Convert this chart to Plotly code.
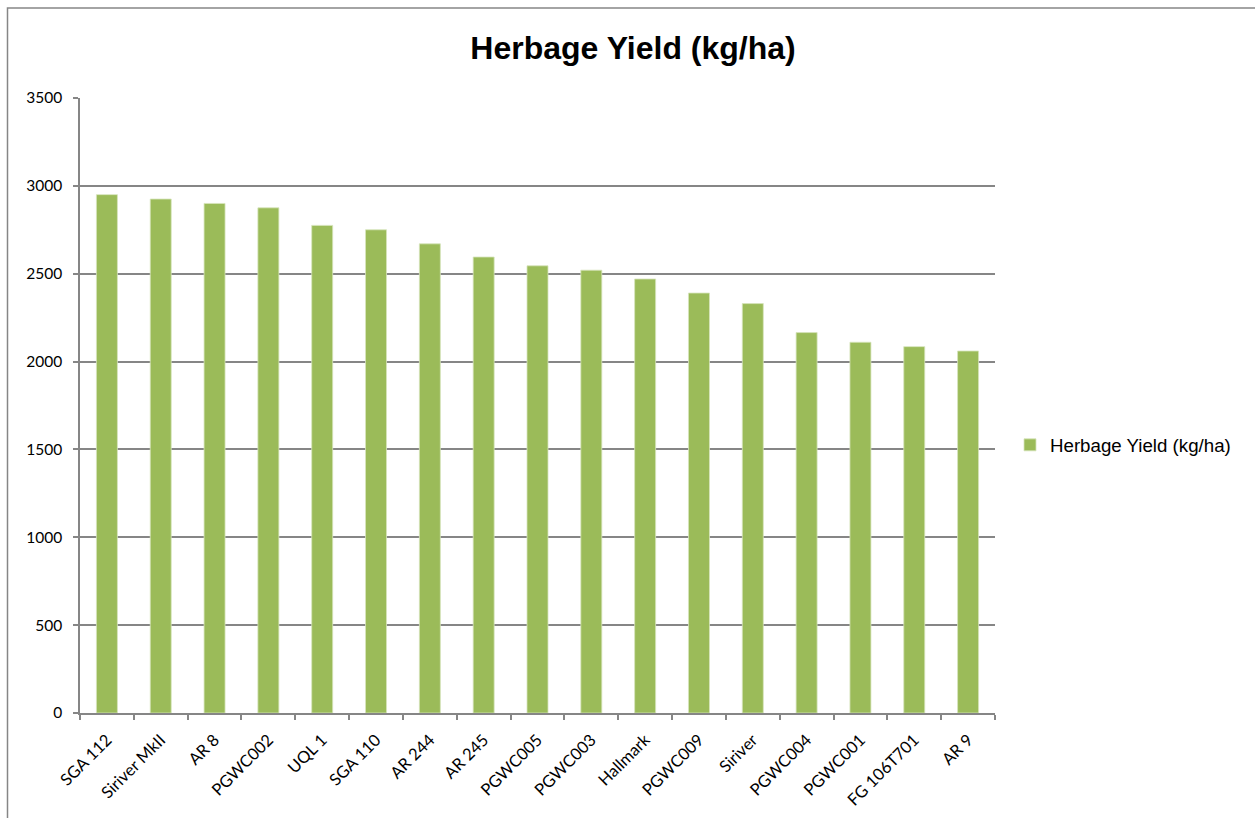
import plotly.graph_objects as go

categories = ["SGA 112", "Siriver MkII", "AR 8", "PGWC002", "UQL 1", "SGA 110", "AR 244",
              "AR 245", "PGWC005", "PGWC003", "Hallmark", "PGWC009", "Siriver", "PGWC004",
              "PGWC001", "FG 106T701", "AR 9"]
yield_values = [2950, 2925, 2900, 2875, 2775, 2750, 2670, 2595, 2545, 2520, 2470, 2390,
                2330, 2165, 2110, 2085, 2060]
y_ticks = [0, 500, 1000, 1500, 2000, 2500, 3000, 3500]
series_name = "Herbage Yield (kg/ha)"

W, H = 1255, 818
L, R, T, B = 80, 995, 97.5, 713
plot_w, plot_h = R - L, B - T

def px_x(px):
    return (px - L) / plot_w

def px_y(py):
    return (B - py) / plot_h

fig = go.Figure()
fig.add_trace(go.Bar(
    x=categories, y=yield_values, name=series_name,
    marker=dict(color="#9BBB59", line=dict(color="#D7E4BD", width=0.8)),
    showlegend=True,
))

fig.update_layout(
    width=W, height=H,
    margin=dict(l=L, r=W - R, t=T, b=H - B, pad=0, autoexpand=False),
    paper_bgcolor="white", plot_bgcolor="white",
    bargap=0.61,
    title=dict(text="<b>Herbage Yield (kg/ha)</b>", x=px_x(633), xref="paper",
               xanchor="center", y=1 - 48 / H, yanchor="middle",
               font=dict(family="Liberation Sans, Arial", size=32, color="black")),
    showlegend=True,
    legend=dict(x=px_x(1010), xanchor="left", y=px_y(445), yanchor="middle",
                font=dict(family="Liberation Sans, Arial", size=18.7, color="black"),
                bgcolor="rgba(0,0,0,0)", itemwidth=30, tracegroupgap=0),
    xaxis=dict(
        type="category", showline=True, linecolor="#868686", linewidth=1.5,
        ticks="outside", tickson="boundaries", ticklen=5, tickcolor="#868686", tickwidth=1.5,
        tickangle=-45, showgrid=False, automargin=False,
        tickfont=dict(family="Lato, Calibri, sans-serif", size=16.5, color="black"),
        ticklabelstandoff=9,
    ),
    yaxis=dict(
        range=[0, 3500], tickvals=y_ticks, showline=True, linecolor="#868686", linewidth=1.5,
        ticks="outside", ticklen=5, tickcolor="#868686", tickwidth=1.5, automargin=False,
        showgrid=True, gridcolor="#868686", gridwidth=1.5, zeroline=False,
        tickfont=dict(family="Lato, Calibri, sans-serif", size=15.5, color="black"),
        ticklabelstandoff=8,
    ),
    shapes=[dict(type="rect", xref="paper", yref="paper",
                 x0=px_x(7.5), y0=px_y(830), x1=px_x(1270), y1=px_y(7.5),
                 line=dict(color="#868686", width=1.5), fillcolor="rgba(0,0,0,0)",
                 layer="below")],
)

fig.write_html("out.html", config={"displayModeBar": False},
               post_script="document.body.style.margin='0px';")
